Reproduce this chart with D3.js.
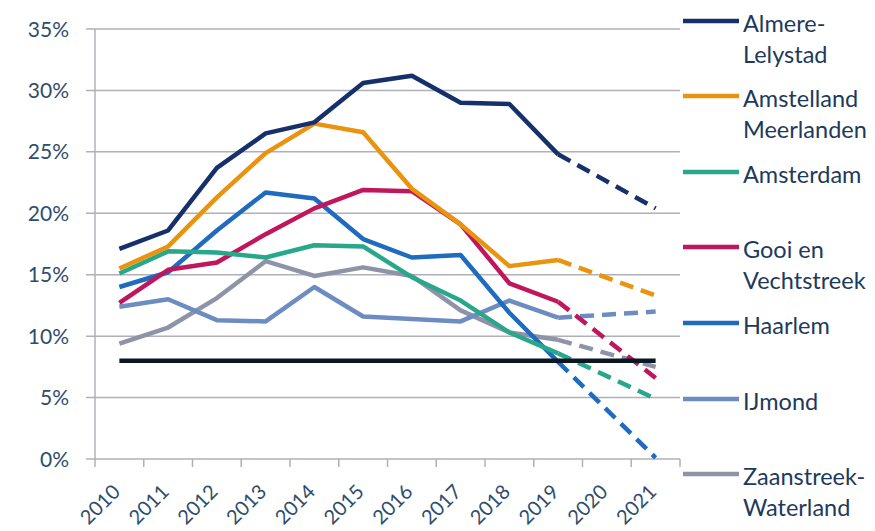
<!DOCTYPE html>
<html>
<head>
<meta charset="utf-8">
<script src="https://cdn.jsdelivr.net/npm/d3@7"></script>
<style>
  body { margin: 0; background: #fff; }
  svg text { font-family: Lato, "Open Sans", sans-serif; }
</style>
</head>
<body>
<svg id="chart" width="875" height="531"></svg>
<script>
// data (percent)
const years = ["2010", "2011", "2012", "2013", "2014", "2015", "2016", "2017", "2018", "2019", "2020", "2021"];
const yTicks = [0, 5, 10, 15, 20, 25, 30, 35];

const almere = [17.1, 18.6, 23.7, 26.5, 27.4, 30.6, 31.2, 29.0, 28.9, 24.8];
const amstelland = [15.5, 17.3, 21.3, 24.9, 27.3, 26.6, 22.0, 19.1, 15.7, 16.2];
const amsterdam = [15.1, 16.9, 16.8, 16.4, 17.4, 17.3, 14.8, 12.9, 10.3, 8.6];
const gooi = [12.7, 15.4, 16.0, 18.3, 20.4, 21.9, 21.8, 19.1, 14.3, 12.8];
const haarlem = [14.0, 15.2, 18.6, 21.7, 21.2, 17.9, 16.4, 16.6, 11.9, 7.9];
const ijmond = [12.4, 13.0, 11.3, 11.2, 14.0, 11.6, 11.4, 11.2, 12.9, 11.5];
const zaanstreek = [9.4, 10.7, 13.1, 16.1, 14.9, 15.6, 14.9, 12.1, 10.3, 9.7];

// dashed forecast 2019 -> 2021
const forecastYears = ["2019", "2021"];
const almereF = [24.8, 20.4];
const amstellandF = [16.2, 13.3];
const amsterdamF = [8.6, 4.9];
const gooiF = [12.8, 6.6];
const haarlemF = [7.9, 0.1];
const ijmondF = [11.5, 12.0];
const zaanstreekF = [9.7, 7.5];

const normValue = 8;

const series = [
  { name: ["Almere-", "Lelystad"], color: "#15306b", values: almere, forecast: almereF },
  { name: ["Amstelland", "Meerlanden"], color: "#e9930f", values: amstelland, forecast: amstellandF },
  { name: ["Amsterdam"], color: "#28a78b", values: amsterdam, forecast: amsterdamF },
  { name: ["Gooi en", "Vechtstreek"], color: "#c0175c", values: gooi, forecast: gooiF },
  { name: ["Haarlem"], color: "#1e6bbf", values: haarlem, forecast: haarlemF },
  { name: ["IJmond"], color: "#6d8cc2", values: ijmond, forecast: ijmondF },
  { name: ["Zaanstreek-", "Waterland"], color: "#8f93a7", values: zaanstreek, forecast: zaanstreekF },
];
const legendY = [21, 96, 172, 247, 323, 399, 474];

const svg = d3.select("#chart");
const plotLeft = 95, plotRight = 680, plotTop = 29, plotBottom = 459;

const x = d3.scaleBand().domain(years).range([plotLeft, plotRight]);
const y = d3.scaleLinear().domain([0, 35]).range([plotBottom, plotTop]);
const cx = (yr) => x(yr) + x.bandwidth() / 2;

const textColor = "#2e4d6d";
const gridColor = "#b0b0b8";

// gridlines
svg.append("g")
  .selectAll("line")
  .data(yTicks)
  .enter()
  .append("line")
  .attr("x1", plotLeft - 9)
  .attr("x2", plotRight)
  .attr("y1", (d) => y(d))
  .attr("y2", (d) => y(d))
  .attr("stroke", gridColor)
  .attr("stroke-width", 1.5);

// y axis line
svg.append("line")
  .attr("x1", plotLeft).attr("x2", plotLeft)
  .attr("y1", y(35)).attr("y2", y(0))
  .attr("stroke", gridColor).attr("stroke-width", 1.5);

// y labels
svg.append("g")
  .selectAll("text")
  .data(yTicks)
  .enter()
  .append("text")
  .attr("x", 69)
  .attr("y", (d) => y(d))
  .attr("dy", "0.36em")
  .attr("text-anchor", "end")
  .attr("fill", textColor)
  .style("font-size", "21px")
  .text((d) => d + "%");

// x tick marks at band edges
const edges = years.map((d) => x(d)).concat([plotRight]);
svg.append("g")
  .selectAll("line")
  .data(edges)
  .enter()
  .append("line")
  .attr("x1", (d) => d).attr("x2", (d) => d)
  .attr("y1", plotBottom).attr("y2", plotBottom + 8)
  .attr("stroke", gridColor).attr("stroke-width", 1.5);

// x labels, rotated
svg.append("g")
  .selectAll("text")
  .data(years)
  .enter()
  .append("text")
  .attr("transform", (d) => `translate(${cx(d) + 2},${plotBottom + 34}) rotate(-45)`)
  .attr("text-anchor", "end")
  .attr("fill", textColor)
  .style("font-size", "20px")
  .text((d) => d);

const line = d3.line()
  .x((d) => cx(d[0]))
  .y((d) => y(d[1]));

const lines = svg.append("g");
series.slice().reverse().forEach((s) => {
  lines.append("path")
    .attr("d", line(s.values.map((v, i) => [years[i], v])))
    .attr("fill", "none")
    .attr("stroke", s.color)
    .attr("stroke-width", 4.5)
    .attr("stroke-linejoin", "round");
  lines.append("path")
    .attr("d", line(s.forecast.map((v, i) => [forecastYears[i], v])))
    .attr("fill", "none")
    .attr("stroke", s.color)
    .attr("stroke-width", 4.5)
    .attr("stroke-dasharray", "14,8");
});

// 8% norm line
lines.append("path")
  .attr("d", line([[years[0], normValue], [years[years.length - 1], normValue]]))
  .attr("fill", "none")
  .attr("stroke", "#0c1724")
  .attr("stroke-width", 4.5);

// legend
const legend = svg.append("g")
  .selectAll("g")
  .data(series)
  .enter()
  .append("g")
  .attr("transform", (d, i) => `translate(683,${legendY[i]})`);

legend.append("line")
  .attr("x1", 0).attr("x2", 56)
  .attr("stroke", (d) => d.color)
  .attr("stroke-width", 4.5);

legend.append("text")
  .attr("fill", "#1d3a5c")
  .style("font-size", "23.5px")
  .selectAll("tspan")
  .data((d) => d.name)
  .enter()
  .append("tspan")
  .attr("x", 60)
  .attr("y", (d, i) => i * 31)
  .attr("dy", "0.48em")
  .text((d) => d);
</script>
</body>
</html>
